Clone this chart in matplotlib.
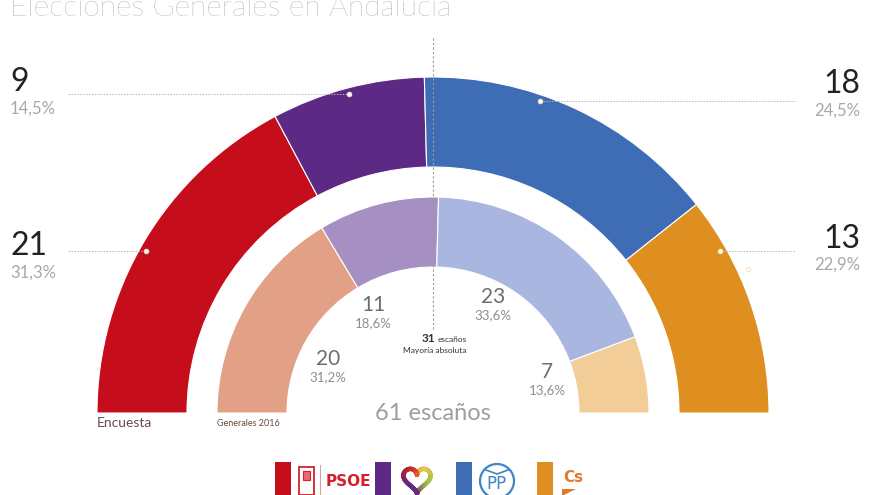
import numpy as np
import matplotlib

matplotlib.use("Agg")
import matplotlib.pyplot as plt
from matplotlib.patches import Wedge, Rectangle, Circle, Polygon
from matplotlib.collections import LineCollection
from matplotlib.colors import LinearSegmentedColormap

plt.rcParams["font.family"] = ["Lato", "DejaVu Sans"]

# ---- data ----
parties = ["PSOE", "Podemos", "PP", "Cs"]
survey_seats = [21, 9, 18, 13]
survey_pct = ["31,3%", "14,5%", "24,5%", "22,9%"]
g2016_seats = [20, 11, 23, 7]
g2016_pct = ["31,2%", "18,6%", "33,6%", "13,6%"]
total_seats = 61
majority = 31

survey_colors = ["#c60d1b", "#5c2a85", "#3f6db5", "#df8f1f"]
g2016_colors = ["#e2a086", "#a68fc3", "#a9b6e0", "#f3cd97"]

# ---- layout (pixel space, y down) ----
W, H = 880, 495
CX, CY = 433, 413
R_OUT, W_OUT = 336, 90
R_IN, W_IN = 216, 70

fig = plt.figure(figsize=(W / 100, H / 100), dpi=100)
ax = fig.add_axes([0, 0, 1, 1])
ax.set_xlim(0, W)
ax.set_ylim(H, 0)
ax.axis("off")


def ring(seats, colors, r, width):
    start = 180.0
    for n, c in zip(seats, colors):
        end = start - 180.0 * n / total_seats
        # y axis is inverted, so visual angle t sits at data angle -t
        ax.add_patch(Wedge((CX, CY), r, -start, -end, width=width,
                           facecolor=c, edgecolor="white", lw=0.8))
        start = end


ring(survey_seats, survey_colors, R_OUT, W_OUT)
ring(g2016_seats, g2016_colors, R_IN, W_IN)

# title (clipped at the top like the source)
ax.text(10, 16, "Elecciones Generales en Andalucía", fontsize=21.5, color="#8c8c8c",
        fontweight="light", va="baseline", ha="left")

# majority line
ax.plot([CX, CX], [38, 330], color="#9a9a9a", lw=0.8, ls=(0, (2, 2)))

# survey labels: (side, number y, pct y, line y)
label_pos = [("L", 246, 273, 251), ("L", 82, 109, 94),
             ("R", 84, 111, 101), ("R", 239, 265, 251)]
R_DOT = 330
for (side, ny, py, ly), n, p in zip(label_pos, survey_seats, survey_pct):
    dx = np.sqrt(R_DOT ** 2 - (CY - ly) ** 2)
    if side == "L":
        xd = CX - dx
        ax.text(10, ny, str(n), fontsize=23, color="#222222", ha="left", va="center")
        ax.text(10, py, p, fontsize=12, color="#a8a8a8", ha="left", va="center")
        ax.plot([68, xd], [ly, ly], color="#b5b5b5", lw=0.7, ls=(0, (1.5, 1.5)))
    else:
        xd = CX + dx
        ax.text(860, ny, str(n), fontsize=23, color="#222222", ha="right", va="center")
        ax.text(860, py, p, fontsize=12, color="#a8a8a8", ha="right", va="center")
        ax.plot([xd, 795], [ly, ly], color="#b5b5b5", lw=0.7, ls=(0, (1.5, 1.5)))
    ax.plot(xd, ly, "o", ms=3.5, color="white", mec="#f2e0b0", mew=0.5)
ax.plot(748, 269, "o", ms=3, mfc="none", mec="#f5e6c8", mew=0.8)

# 2016 labels
inner_pos = [(328, 359, 377), (373, 305, 323), (493, 297, 315), (547, 372, 390)]
for (x, ny, py), n, p in zip(inner_pos, g2016_seats, g2016_pct):
    ax.text(x, ny, str(n), fontsize=15, color="#6e6e6e", ha="center", va="center")
    ax.text(x, py, p, fontsize=9.5, color="#8e8e8e", ha="center", va="center")

ax.text(CX + 2, 339, f"{majority}", fontsize=8.5, fontweight="bold", color="#333333",
        ha="right", va="center")
ax.text(CX + 5, 340, "escaños", fontsize=6, color="#333333", ha="left", va="center")
ax.text(CX + 2, 351, "Mayoría absoluta", fontsize=6, color="#333333", ha="center", va="center")
ax.text(CX, 413, f"{total_seats} escaños", fontsize=17, color="#9e9e9e",
        ha="center", va="center")

ax.text(97, 423, "Encuesta", fontsize=10, color="#6a4c4c", ha="left", va="center")
ax.text(217, 423, "Generales 2016", fontsize=6.5, color="#6b4a3c", ha="left", va="center")

# ---- legend strip ----
for x0, c in zip([275, 375, 456, 537], survey_colors):
    ax.add_patch(Rectangle((x0, 462), 16, 40, facecolor=c, edgecolor="none"))

# PSOE logo + text
ax.add_patch(Rectangle((299, 467), 15, 28, facecolor="none", edgecolor="#d3202b", lw=1.3))
ax.add_patch(Rectangle((303, 471), 7, 9, facecolor="#e86a70", edgecolor="#d3202b", lw=0.8))
ax.plot([320, 320], [465, 495], color="#d9a0a0", lw=0.8)
ax.text(326, 482, "PSOE", fontsize=11, fontweight="bold", color="#d3202b",
        ha="left", va="center", family=["DejaVu Sans"])

# heart
t = np.linspace(0, 2 * np.pi, 200)
hx = 16 * np.sin(t) ** 3
hy = 13 * np.cos(t) - 5 * np.cos(2 * t) - 2 * np.cos(3 * t) - np.cos(4 * t)
hx = 417 + hx * 0.85
hy = 479 - hy * 0.85
pts = np.column_stack([hx, hy]).reshape(-1, 1, 2)
segs = np.concatenate([pts[:-1], pts[1:]], axis=1)
heart_cmap = LinearSegmentedColormap.from_list(
    "heart", ["#f0a030", "#e7c84a", "#9fc04a", "#7a2a70", "#5c2a85", "#b0202a", "#e45a2a"])
lc = LineCollection(segs, cmap=heart_cmap, lw=3.2, capstyle="round")
lc.set_array(t[:-1])
ax.add_collection(lc)

# PP logo
ax.add_patch(Circle((497, 481), 17, facecolor="none", edgecolor="#3f84c6", lw=1.6))
ax.text(497, 484, "PP", fontsize=12, color="#3f84c6", ha="center", va="center",
        family=["DejaVu Sans"])
ax.plot([486, 497, 508], [470, 474, 470], color="#3f84c6", lw=1.2)

# Cs logo
ax.text(563, 477, "Cs", fontsize=11, fontweight="bold", color="#e2792c",
        ha="left", va="center", family=["DejaVu Sans"])
ax.add_patch(Polygon([[562, 489], [576, 489], [562, 496]], closed=True,
                     facecolor="#e2792c", edgecolor="none"))

fig.savefig("out.png", dpi=100, facecolor="white")
